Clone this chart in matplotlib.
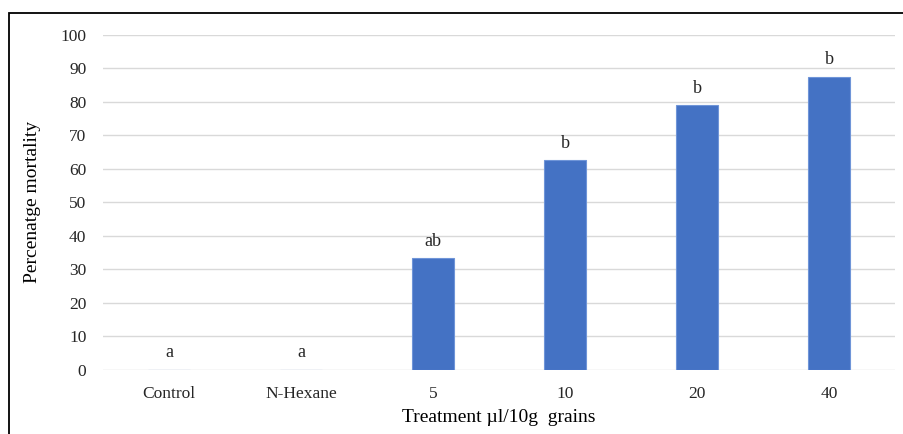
import numpy as np
import matplotlib as mpl
import matplotlib.pyplot as plt
from matplotlib.patches import Rectangle

# data
treatments = ['Control', 'N-Hexane', '5', '10', '20', '40']
mortality = [0, 0, 33.3, 62.5, 79.0, 87.5]
letters = ['a', 'a', 'ab', 'b', 'b', 'b']

plt.rcParams['font.family'] = ['Liberation Serif', 'DejaVu Serif']

fig = plt.figure(figsize=(9.04, 4.34), dpi=100)
ax = fig.add_axes([103/904, (434-369.7)/434, (895-103)/904, (369.7-34.7)/434])

xpos = np.arange(len(treatments))
ax.bar(xpos, mortality, width=0.32, color='#4472C4', edgecolor='#6f95d8',
       linewidth=0.8, zorder=3)

# significance letters sit about 5 units above each bar
for x, v, lt in zip(xpos, mortality, letters):
    ax.text(x, v + 5, lt, ha='center', va='center', fontsize=13, color='#262626')

ax.set_xlim(-0.5, len(treatments) - 0.5)
ax.set_ylim(0, 100)
ax.set_yticks(np.arange(0, 101, 10))
ax.set_xticks(xpos)
ax.set_xticklabels(treatments)
ax.tick_params(axis='both', length=0, labelsize=12.5, colors='#262626')
ax.tick_params(axis='x', pad=12)
ax.tick_params(axis='y', pad=12)
ax.grid(axis='y', color='#d9d9d9', linewidth=1.0, zorder=0)
for sp in ax.spines.values():
    sp.set_visible(False)

ax.set_xlabel('Treatment \u00b5l/10g  grains', fontsize=14, labelpad=5)
ax.set_ylabel('Percenatge mortality', fontsize=14, labelpad=14)

# outer frame around the chart (cut at right/bottom like the reference)
fig.patches.append(Rectangle((9/904, -0.1), 1.0, (434-13)/434 + 0.1,
                             transform=fig.transFigure, fill=False,
                             edgecolor='black', linewidth=1.3))

plt.savefig('out.png', dpi=100)
